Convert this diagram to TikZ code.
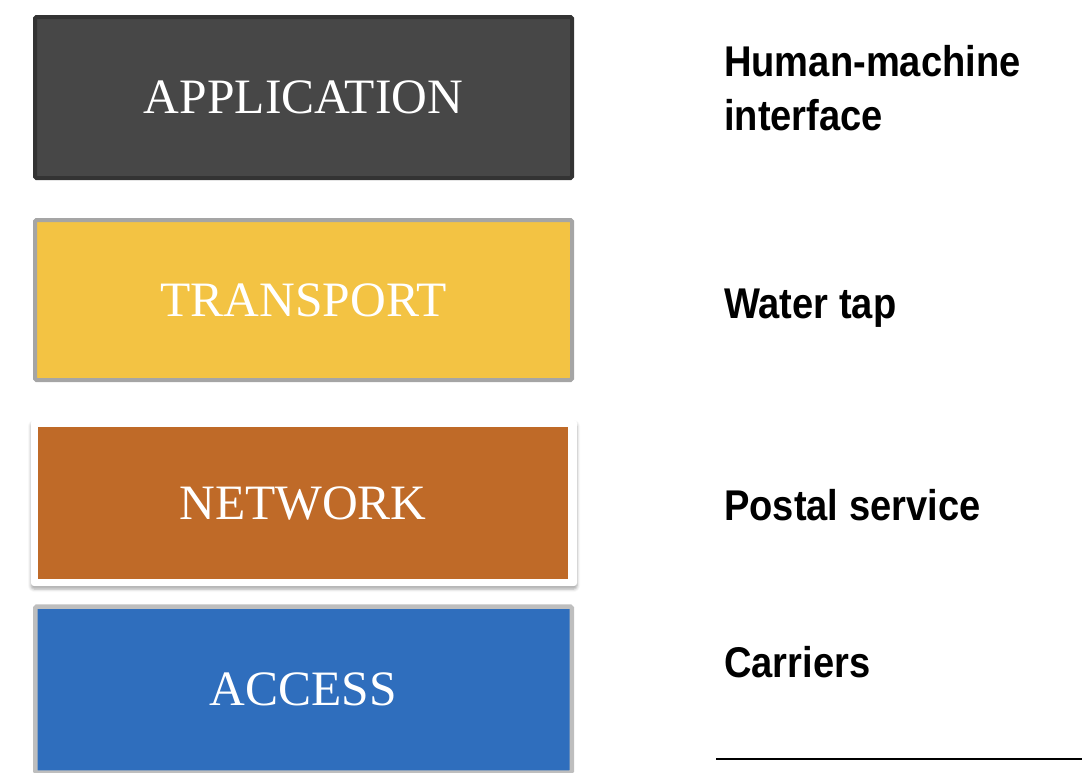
\documentclass[tikz,border=0pt]{standalone}
\usepackage{fontspec}
\setmainfont{Liberation Serif}
\newfontfamily\labfont[FakeStretch=0.886]{Liberation Sans}
\usetikzlibrary{shadows.blur}
\definecolor{appfill}{HTML}{474747}
\definecolor{appline}{HTML}{333333}
\definecolor{trfill}{HTML}{F3C343}
\definecolor{trline}{HTML}{A5A5A5}
\definecolor{netfill}{HTML}{BF6A28}
\definecolor{accfill}{HTML}{2F6EBD}
\definecolor{accline}{HTML}{BEBEBE}
\tikzset{
  layer/.style={rectangle, inner sep=0pt, text=white,
    font=\fontsize{49.5}{49.5}\selectfont},
  lab/.style={anchor=base west, inner sep=0pt, align=left,
    font=\labfont\bfseries\fontsize{43}{54}\selectfont},
}
\begin{document}
\begin{tikzpicture}[x=1pt,y=-1pt]
\useasboundingbox (0,0) rectangle (1082,772);
% APPLICATION
\node[layer, fill=appfill, draw=appline, line width=4pt, rounded corners=1.5pt,
  minimum width=537pt, minimum height=161pt] (app) at (303.5,97.5) {APPLICATION};
% TRANSPORT
\node[layer, fill=trfill, draw=trline, line width=4pt, rounded corners=1.5pt,
  minimum width=537pt, minimum height=160pt] (tr) at (303.5,300) {TRANSPORT};
% NETWORK
\node[rectangle, fill=white, rounded corners=3pt, minimum width=546pt, minimum height=166pt,
  blur shadow={shadow xshift=0pt, shadow yshift=-3pt, shadow blur radius=3pt, shadow opacity=35}]
  (netframe) at (304,503) {};
\node[layer, fill=netfill, minimum width=530pt, minimum height=152pt] (net) at (303,503) {NETWORK};
% ACCESS
\node[layer, fill=accfill, draw=accline, line width=4.5pt, rounded corners=1.5pt,
  minimum width=536.5pt, minimum height=166pt] (acc) at (303.5,689.5) {ACCESS};
% labels
\node[lab] (l1) at (724,130) {Human-machine\\interface};
\node[lab] (l2) at (724,318) {Water tap};
\node[lab] (l3) at (724,520) {Postal service};
\node[lab] (l4) at (724,677) {Carriers};
% bottom rule
\coordinate (r1) at (716,759);
\coordinate (r2) at (1082,759);
\draw[line width=2.5pt] (r1) -- (r2);
\end{tikzpicture}
\end{document}
